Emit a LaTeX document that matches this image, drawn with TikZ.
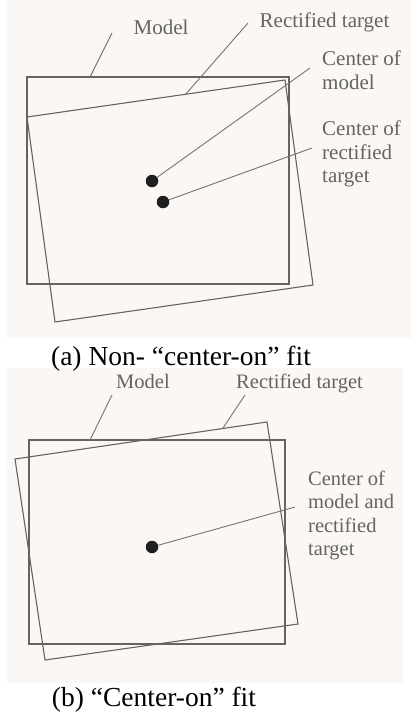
\documentclass[tikz,border=0pt]{standalone}
\usepackage{fontspec}
\setmainfont{Liberation Serif}
\definecolor{panelbg}{RGB}{250,247,244}
\definecolor{edge}{RGB}{100,100,100}
\definecolor{labelgray}{RGB}{100,100,100}
\begin{document}
\begin{tikzpicture}[x=1pt,y=-1pt,
  frame/.style={draw=edge,line width=1.1pt,line join=miter},
  leader/.style={draw=edge!90,line width=0.9pt},
  lbl/.style={text=labelgray,font=\fontsize{21}{23.5}\selectfont,inner sep=0pt,align=left},
  lblb/.style={text=labelgray,font=\fontsize{20.5}{23.3}\selectfont,inner sep=0pt,align=left},
  captiontext/.style={font=\fontsize{27.5}{30}\selectfont,inner sep=0pt},
  centre/.style={circle,fill=black!88,inner sep=0pt,minimum size=12.5pt}]
\useasboundingbox (0,0) rectangle (411,713);

% panel backgrounds
\fill[panelbg] (7,0) rectangle (411,338);
\fill[panelbg] (7,368) rectangle (403,683);

% ---------- (a) non-centred fit ----------
\draw[frame] (27,77) rectangle (289,284);
\draw[frame] (27,117) -- (285,80) -- (313,285) -- (55,322) -- cycle;

\node[centre] (cmA) at (152,181) {};
\node[centre] (ctA) at (163,202) {};

\node[lbl,anchor=base] (modelA) at (161,34) {Model};
\node[lbl,anchor=base] (rectA) at (324.5,27) {Rectified target};
\node[lbl,anchor=north west] (cmlabA) at (322,50.7) {Center of\\model};
\node[lbl,anchor=north west] (ctlabA) at (322,120.7) {Center of\\rectified\\target};

\coordinate (modelEdgeA) at (90,77);
\coordinate (modelTipA) at (112,33);
\coordinate (rectEdgeA) at (185,95);
\coordinate (rectTipA) at (248,23);
\coordinate (cmTipA) at (310,68);
\coordinate (ctTipA) at (312,148);

\draw[leader] (modelEdgeA) -- (modelTipA);
\draw[leader] (rectEdgeA) -- (rectTipA);
\draw[leader] (cmA) -- (cmTipA);
\draw[leader] (ctA) -- (ctTipA);

\node[captiontext,anchor=base] (capA) at (181,365) {(a) Non- “center-on” fit};

% ---------- (b) centred fit ----------
\draw[frame] (29,440) rectangle (285,644);
\draw[frame] (15,459) -- (267,422) -- (298,624) -- (45,660) -- cycle;

\node[centre] (cB) at (152,547) {};

\node[lblb,anchor=base] (modelB) at (143,388) {Model};
\node[lblb,anchor=base] (rectB) at (299.5,388) {Rectified target};
\node[lblb,anchor=north west] (clabB) at (308,471) {Center of\\model and\\rectified\\target};

\coordinate (modelEdgeB) at (90,440);
\coordinate (modelTipB) at (112,395);
\coordinate (rectEdgeB) at (223,428);
\coordinate (rectTipB) at (245,395);
\coordinate (cTipB) at (295,507);

\draw[leader] (modelEdgeB) -- (modelTipB);
\draw[leader] (rectEdgeB) -- (rectTipB);
\draw[leader] (cB) -- (cTipB);

\node[captiontext,anchor=base] (capB) at (154,706) {(b) “Center-on” fit};
\end{tikzpicture}
\end{document}
